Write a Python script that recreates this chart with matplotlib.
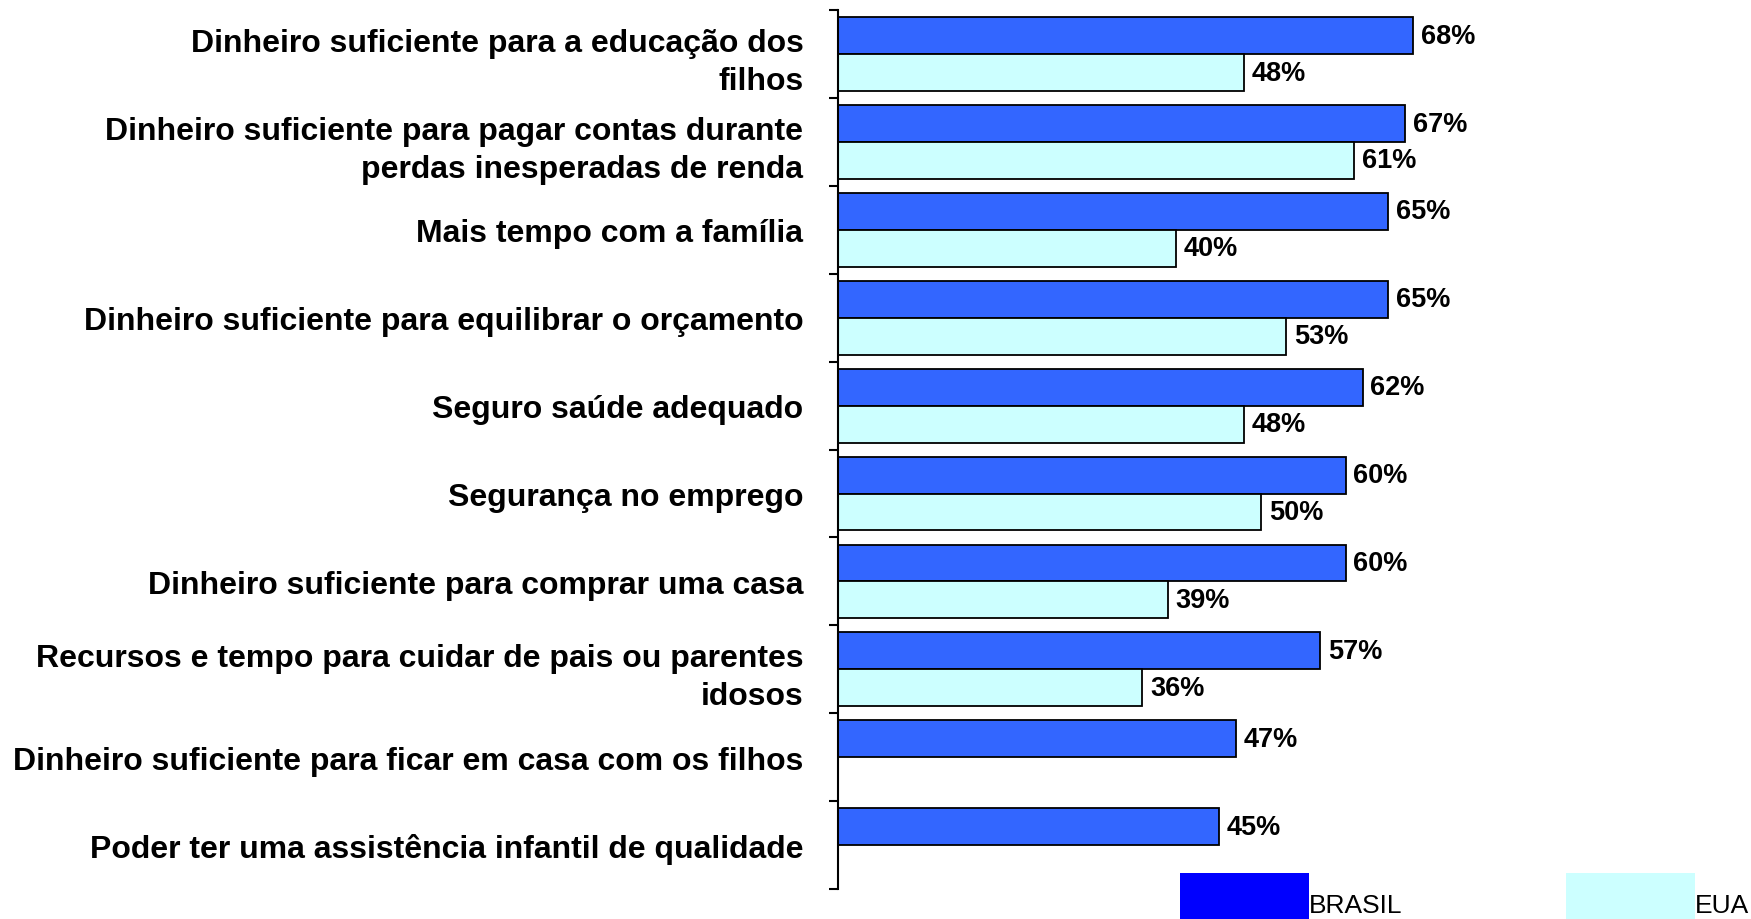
import matplotlib
matplotlib.use("Agg")
import matplotlib.pyplot as plt
from matplotlib.patches import Patch
import numpy as np

categories = [
    "Dinheiro suficiente para a educação dos\nfilhos",
    "Dinheiro suficiente para pagar contas durante\nperdas inesperadas de renda",
    "Mais tempo com a família",
    "Dinheiro suficiente para equilibrar o orçamento",
    "Seguro saúde adequado",
    "Segurança no emprego",
    "Dinheiro suficiente para comprar uma casa",
    "Recursos e tempo para cuidar de pais ou parentes\nidosos",
    "Dinheiro suficiente para ficar em casa com os filhos",
    "Poder ter uma assistência infantil de qualidade",
]
brasil = [68, 67, 65, 65, 62, 60, 60, 57, 47, 45]
eua = [48, 61, 40, 53, 48, 50, 39, 36, None, None]
series_names = ["BRASIL", "EUA"]

plt.rcParams['font.family'] = ['Liberation Sans', 'DejaVu Sans']

fig = plt.figure(figsize=(17.51, 9.20), dpi=100)
ax = fig.add_axes([837.5 / 1751, 1 - 890 / 920, 847 / 1751, (890 - 11.2) / 920])

n = len(categories)
y = np.arange(n)
h = 0.42
c_br = "#3366FF"
c_us = "#CCFFFF"
narrow = ['Liberation Sans Narrow', 'Liberation Sans']

for i in range(n):
    ax.barh(y[i] - h / 2, brasil[i], height=h, color=c_br, edgecolor="black", linewidth=1.3)
    ax.annotate(f"{brasil[i]}%", (brasil[i], y[i] - h / 2), xytext=(5.5, 0),
                textcoords="offset points", va="center", ha="left",
                fontsize=19.5, fontweight="bold", family=narrow)
    if eua[i] is not None:
        ax.barh(y[i] + h / 2, eua[i], height=h, color=c_us, edgecolor="black", linewidth=1.3)
        ax.annotate(f"{eua[i]}%", (eua[i], y[i] + h / 2), xytext=(5.5, 0),
                    textcoords="offset points", va="center", ha="left",
                    fontsize=19.5, fontweight="bold", family=narrow)

ax.set_xlim(0, 100)
ax.set_ylim(n - 0.5, -0.5)

ax.set_yticks(np.arange(n + 1) - 0.5)
ax.set_yticklabels([])
ax.set_yticks(y, minor=True)
ax.set_yticklabels(categories, minor=True, fontsize=23, fontweight="bold",
                   ha="right", multialignment="right", linespacing=1.35)
ax.tick_params(axis="y", which="major", direction="out", length=6.5, width=1.5)
ax.tick_params(axis="y", which="minor", length=0, pad=24.5)
ax.set_xticks([])
for s in ["top", "right", "bottom"]:
    ax.spines[s].set_visible(False)
ax.spines["left"].set_linewidth(1.5)

handles = [Patch(facecolor="#0000FF", edgecolor="none"),
           Patch(facecolor=c_us, edgecolor="none")]
fig.legend(handles, series_names, loc="upper left",
           bbox_to_anchor=(1180 / 1751, 1 - 874 / 920), ncol=2, frameon=False,
           fontsize=19, handlelength=4.89, handleheight=3.25, handletextpad=0.0,
           columnspacing=6.2, borderpad=0, borderaxespad=0)

fig.savefig("out.png", dpi=100)
